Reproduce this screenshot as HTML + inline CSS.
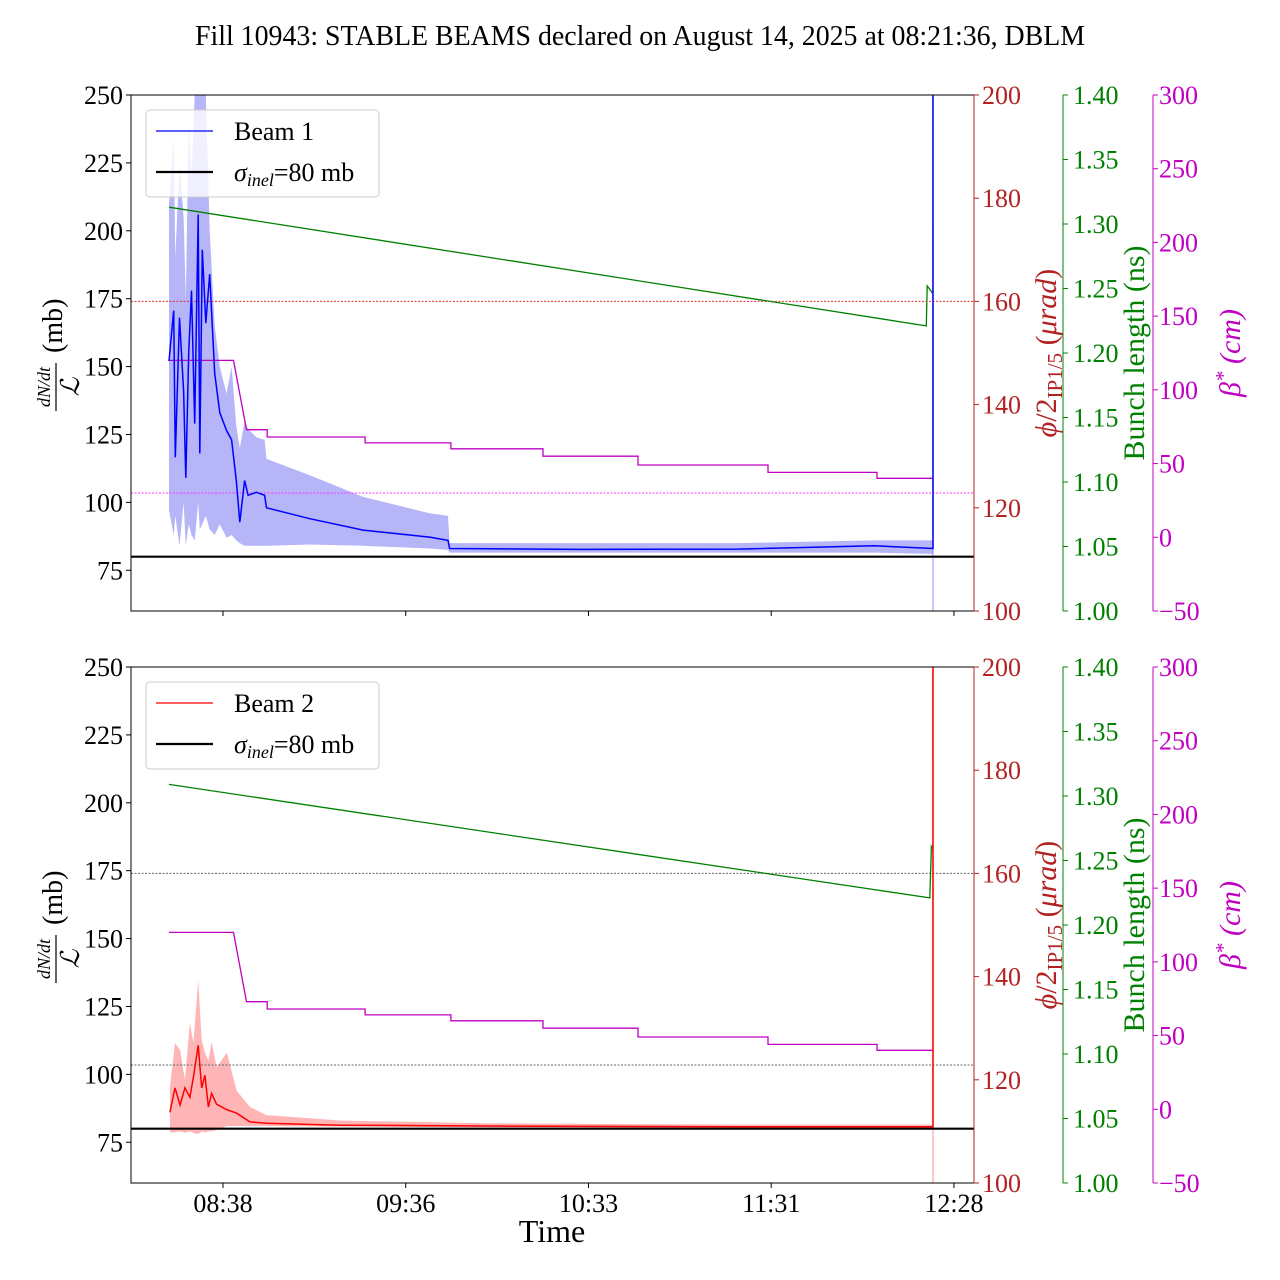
<!DOCTYPE html>
<html><head><meta charset="utf-8">
<style>
html,body{margin:0;padding:0;background:#fff;}
svg{display:block;font-family:"Liberation Serif","DejaVu Serif",serif;}
</style></head>
<body>
<svg id="chart" width="1280" height="1280" viewBox="0 0 1280 1280" xmlns="http://www.w3.org/2000/svg">
<text x="640" y="45" font-size="28" text-anchor="middle" textLength="890" lengthAdjust="spacingAndGlyphs">Fill 10943: STABLE BEAMS declared on August 14, 2025 at 08:21:36, DBLM</text>
</svg>
<script>
// ---- data (time in minutes since 08:00) ----
const timeTicks = [38, 95.5, 153, 210.5, 268];
const timeTickLabels = ["08:38", "09:36", "10:33", "11:31", "12:28"];
const leftTicks = [75, 100, 125, 150, 175, 200, 225, 250];
const redTicks = [100, 120, 140, 160, 180, 200];
const greenTicks = [1.00, 1.05, 1.10, 1.15, 1.20, 1.25, 1.30, 1.35, 1.40];
const magTicks = [-50, 0, 50, 100, 150, 200, 250, 300];

const b1Time = [21, 22.5, 23, 24.3, 25.6, 26.3, 27.2, 28.1, 29.1, 30.2, 30.7, 31.5, 32.6, 33.8, 35.4, 37.0, 39.1, 40.7, 42.2, 43.3, 44.8, 45.9, 48.5, 51.1, 51.7, 65.3, 82.1, 103, 108.8, 109.3, 150, 200, 243, 261.4];
const b1Mean = [152, 170.6, 116.6, 168, 141, 109, 155, 178, 129, 206, 118, 193, 166, 184, 147.5, 133, 126.5, 123, 108, 92.7, 108, 102.6, 103.7, 102.6, 98, 94, 89.8, 87.2, 86, 83, 82.7, 82.8, 84, 83];
const b1Upper = [210, 235, 190, 225, 205, 175, 240, 220, 250, 262, 262, 255, 250, 200, 165, 150, 140, 150, 128, 120, 130, 127, 124, 123, 116, 110, 102, 96, 95, 85, 85, 85, 86, 86];
const b1Lower = [97, 88, 95, 84, 100, 84, 92, 88, 86, 100, 90, 92, 95, 90, 88, 92, 87, 88, 86, 85, 84, 84, 84, 84, 84, 84.5, 84, 83, 82.5, 81.5, 81.5, 81.5, 81.5, 81];

const b2Time = [21.3, 22.9, 24.5, 26.0, 27.6, 28.7, 30.2, 31.3, 32.3, 33.4, 34.4, 36.0, 39.2, 42.3, 46.5, 51.7, 74.8, 120, 200, 261.4];
const b2Mean = [86, 95, 88.7, 95, 91.6, 99, 110.7, 95, 99.7, 88, 93, 89, 87, 85.7, 82.5, 82, 81.3, 81, 80.7, 80.7];
const b2Upper = [95, 111.5, 109, 98, 119, 111.5, 134.6, 112.6, 108, 105, 112, 102.6, 108, 94, 88, 85, 83, 82, 81.5, 81.5];
const b2Lower = [78.7, 78.7, 79, 78.5, 79, 78.5, 78, 79, 78.7, 79, 79, 79.5, 81, 81, 81, 81, 80.8, 80.5, 80.3, 80.3];

const bunch1Time = [21, 259.3, 259.6, 261.4];
const bunch1Val = [1.313, 1.221, 1.252, 1.246];
const bunch2Time = [21, 260.4, 260.9, 261.4];
const bunch2Val = [1.309, 1.221, 1.261, 1.259];

const betaTime = [21, 41.3, 45.4, 51.9, 51.9, 82.7, 82.7, 109.7, 109.7, 138.7, 138.7, 168.6, 168.6, 209.5, 209.5, 243.8, 243.8, 261.4];
const betaVal = [120, 120, 73, 73, 68, 68, 64, 64, 60, 60, 55, 55, 49, 49, 44, 44, 40, 40];

const sigmaInel = 80;
const crossingRef = 160;
const betaRef = 30;
const endSpikeTime = 261.4;

// ---- axes ----
const X0 = 131, X1 = 974;
const xOf = t => 223 + (t - 38) * 3.178;
function panel(top) {
  const bot = top + 516;
  return {
    top, bot,
    yL: v => bot - (v - 60) * (516 / 190),
    yR: v => bot - (v - 100) * (516 / 100),
    yG: v => bot - (v - 1.0) * (516 / 0.4),
    yM: v => bot - (v + 50) * (516 / 350)
  };
}
const svg = document.getElementById('chart');
const NS = 'http://www.w3.org/2000/svg';
function mk(tag, attrs, parent) {
  const e = document.createElementNS(NS, tag);
  for (const k in attrs) e.setAttribute(k, attrs[k]);
  (parent || svg).appendChild(e);
  return e;
}
function pathFrom(ts, vs, xf, yf) {
  return ts.map((t, i) => (i ? 'L' : 'M') + xf(t).toFixed(1) + ',' + yf(vs[i]).toFixed(1)).join(' ');
}
const FS = 26;

function drawPanel(top, cfg) {
  const P = panel(top);
  const g = mk('g', {});
  
  
  const clipId = 'clip' + top;
  const cp = mk('clipPath', { id: clipId }, g);
  mk('rect', { x: X0, y: P.top, width: X1 - X0, height: 516 }, cp);
  const plot = mk('g', { 'clip-path': 'url(#' + clipId + ')' }, g);

  const bandD = pathFrom(cfg.time, cfg.upper, xOf, P.yL) + ' ' +
    cfg.time.slice().reverse().map((t, i) => 'L' + xOf(t).toFixed(1) + ',' + P.yL(cfg.lower[cfg.lower.length - 1 - i]).toFixed(1)).join(' ') + ' Z';
  const band = mk('path', { d: bandD, fill: cfg.bandColor, stroke: 'none' }, plot);
  
  
  const sp = mk('line', { x1: xOf(endSpikeTime), x2: xOf(endSpikeTime), y1: P.yL(60), y2: P.yL(250), stroke: cfg.bandColor, 'stroke-width': 1.5 }, plot);
  
  

  const r1 = mk('line', { x1: X0, x2: X1, y1: P.yR(crossingRef), y2: P.yR(crossingRef), stroke: cfg.refColor1, 'stroke-width': 1, 'stroke-dasharray': '2,1.5' }, plot);
  
  
  const r2 = mk('line', { x1: X0, x2: X1, y1: P.yM(betaRef), y2: P.yM(betaRef), stroke: cfg.refColor2, 'stroke-width': 1, 'stroke-dasharray': '2,1.5' }, plot);
  
  

  const gl = mk('path', { d: pathFrom(cfg.bTime, cfg.bVal, xOf, P.yG), fill: 'none', stroke: '#008000', 'stroke-width': 1.3 }, plot);
  
  
  const ml = mk('path', { d: pathFrom(betaTime, betaVal, xOf, P.yM), fill: 'none', stroke: '#c000c0', 'stroke-width': 1.3 }, plot);
  
  
  const mean = mk('path', { d: pathFrom(cfg.time, cfg.mean, xOf, P.yL) + ' L' + xOf(endSpikeTime) + ',' + P.yL(260), fill: 'none', stroke: cfg.color, 'stroke-width': 1.5 }, plot);
  
  
  const sl = mk('line', { x1: X0, x2: X1, y1: P.yL(sigmaInel), y2: P.yL(sigmaInel), stroke: '#000', 'stroke-width': 2.2 }, plot);
  
  

  mk('rect', { x: X0, y: P.top, width: X1 - X0, height: 516, fill: 'none', stroke: '#000', 'stroke-width': 1 }, g);

  leftTicks.forEach(v => {
    const y = P.yL(v);
    mk('line', { x1: X0 - 5, x2: X0, y1: y, y2: y, stroke: '#000' }, g);
    const t = mk('text', { x: X0 - 8, y: y + 9, 'font-size': FS, 'text-anchor': 'end' }, g);
    t.textContent = v;
    
    
  });
  timeTicks.forEach((tv, i) => {
    const x = xOf(tv);
    mk('line', { x1: x, x2: x, y1: P.bot, y2: P.bot + 5, stroke: '#000' }, g);
    if (cfg.xLabels) {
      const t = mk('text', { x: x, y: P.bot + 29, 'font-size': FS, 'text-anchor': 'middle' }, g);
      t.textContent = timeTickLabels[i];
      
      
    }
  });
  mk('line', { x1: X1, x2: X1, y1: P.top, y2: P.bot, stroke: '#b22222' }, g);
  redTicks.forEach(v => {
    const y = P.yR(v);
    mk('line', { x1: X1, x2: X1 + 5, y1: y, y2: y, stroke: '#b22222' }, g);
    const t = mk('text', { x: X1 + 8, y: y + 9, 'font-size': FS, fill: '#b22222' }, g);
    t.textContent = v;
    
    
  });
  const GX = 1063;
  mk('line', { x1: GX, x2: GX, y1: P.top, y2: P.bot, stroke: '#008000' }, g);
  greenTicks.forEach(v => {
    const y = P.yG(v);
    mk('line', { x1: GX, x2: GX + 5, y1: y, y2: y, stroke: '#008000' }, g);
    const t = mk('text', { x: GX + 10, y: y + 9, 'font-size': FS, fill: '#008000' }, g);
    t.textContent = v.toFixed(2);
    
    
  });
  const MX = 1153;
  mk('line', { x1: MX, x2: MX, y1: P.top, y2: P.bot, stroke: '#c000c0' }, g);
  magTicks.forEach(v => {
    const y = P.yM(v);
    mk('line', { x1: MX, x2: MX + 5, y1: y, y2: y, stroke: '#c000c0' }, g);
    const t = mk('text', { x: MX + 6, y: y + 9, 'font-size': FS, fill: '#c000c0' }, g);
    t.textContent = v < 0 ? '\u2212' + Math.abs(v) : v;
    
    
  });

  const cy = (P.top + P.bot) / 2;
  const yl = mk('g', { transform: 'translate(62,' + cy + ') rotate(-90)' }, g);
  
  
  let t = mk('text', { x: -34, y: -12, 'font-size': 18, 'font-style': 'italic', 'text-anchor': 'middle' }, yl); t.textContent = 'dN/dt';
  mk('line', { x1: -58, x2: -10, y1: -6, y2: -6, stroke: '#000', 'stroke-width': 1.2 }, yl);
  t = mk('text', { x: -34, y: 17, 'font-size': 26, 'font-style': 'italic', 'text-anchor': 'middle', 'font-family': '"DejaVu Serif",serif' }, yl); t.textContent = '\u2112';
  t = mk('text', { x: 0, y: 0, 'font-size': 28 }, yl); t.textContent = '(mb)';

  const rl = mk('text', { transform: 'translate(1056,' + cy + ') rotate(-90)', 'font-size': 30, fill: '#b22222', 'text-anchor': 'middle' }, g);
  
  
  rl.innerHTML = '<tspan font-style="italic">\u03d5</tspan>/2<tspan font-size="21" dy="6">IP1/5</tspan><tspan dy="-6"> (</tspan><tspan font-style="italic">\u03bcrad</tspan>)';
  const gt = mk('text', { transform: 'translate(1144,' + cy + ') rotate(-90)', 'font-size': 30, fill: '#008000', 'text-anchor': 'middle' }, g);
  gt.textContent = 'Bunch length (ns)';
  
  
  const mt = mk('text', { transform: 'translate(1240,' + cy + ') rotate(-90)', 'font-size': 30, fill: '#c000c0', 'text-anchor': 'middle', 'font-style': 'italic' }, g);
  mt.innerHTML = '\u03b2<tspan dy="-10" font-size="21">*</tspan><tspan dy="10"> (cm)</tspan>';
  
  

  const lg = mk('g', {}, g);
  
  
  mk('rect', { x: 146, y: P.top + 15, width: 233, height: 87, rx: 4, fill: '#fff', 'fill-opacity': 0.8, stroke: '#ccc' }, lg);
  mk('line', { x1: 156, x2: 213, y1: P.top + 36, y2: P.top + 36, stroke: cfg.color, 'stroke-width': 1.2 }, lg);
  t = mk('text', { x: 234, y: P.top + 45, 'font-size': FS }, lg); t.textContent = cfg.label;
  
  
  mk('line', { x1: 156, x2: 213, y1: P.top + 77, y2: P.top + 77, stroke: '#000', 'stroke-width': 2.2 }, lg);
  t = mk('text', { x: 234, y: P.top + 86, 'font-size': FS }, lg);
  t.innerHTML = '<tspan font-style="italic">\u03c3</tspan><tspan font-style="italic" font-size="18" dy="5">inel</tspan><tspan dy="-5">=80 mb</tspan>';
  
  
}

drawPanel(95, { name: 'beam1-panel', time: b1Time, mean: b1Mean, upper: b1Upper, lower: b1Lower, color: '#0000ff', bandColor: 'rgba(90,90,240,0.45)', refColor1: '#e03030', refColor2: '#ff30ff', bTime: bunch1Time, bVal: bunch1Val, label: 'Beam 1', xLabels: false });
drawPanel(667, { name: 'beam2-panel', time: b2Time, mean: b2Mean, upper: b2Upper, lower: b2Lower, color: '#ff0000', bandColor: 'rgba(255,90,90,0.45)', refColor1: '#666', refColor2: '#666', bTime: bunch2Time, bVal: bunch2Val, label: 'Beam 2', xLabels: true });

const xt = mk('text', { x: 552, y: 1242, 'font-size': 32, 'text-anchor': 'middle' });
xt.textContent = 'Time';


</script>
</body></html>
